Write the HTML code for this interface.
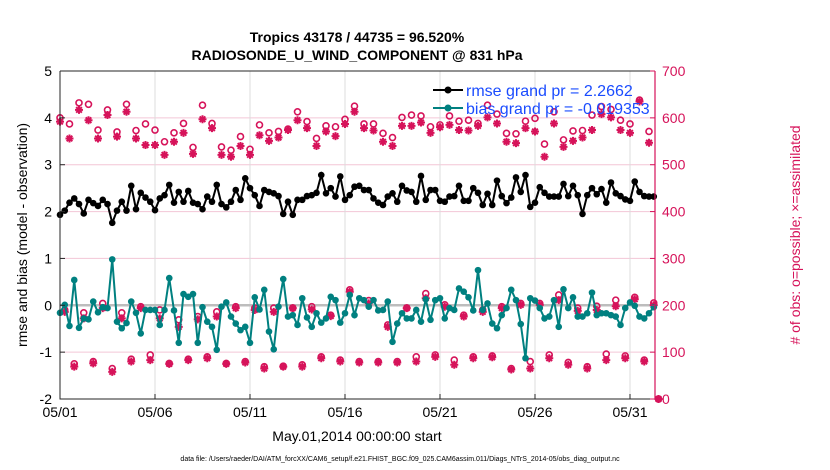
<!DOCTYPE html>
<html><head><meta charset="utf-8"><style>
body{margin:0;background:#fff;}
svg{display:block;font-family:"Liberation Sans",Arial,sans-serif;}
</style></head><body>
<svg id="chart" width="830" height="470" viewBox="0 0 830 470" xmlns="http://www.w3.org/2000/svg">
<rect width="830" height="470" fill="#fff"/>
<text x="357" y="42" text-anchor="middle" font-size="14" font-weight="bold">Tropics 43178 / 44735 = 96.520%</text>
<text x="357" y="60" text-anchor="middle" font-size="14" font-weight="bold">RADIOSONDE_U_WIND_COMPONENT @ 831 hPa</text>
<g id="grid"></g>
<g id="marks"></g>
<g id="axes"></g>
<text transform="translate(27,235) rotate(-90)" text-anchor="middle" font-size="14">rmse and bias (model - observation)</text>
<text transform="translate(800,235) rotate(-90)" text-anchor="middle" font-size="14" fill="#d6135a">#  of obs: o=possible; ×=assimilated</text>
<text x="357" y="441" text-anchor="middle" font-size="14">May.01,2014 00:00:00 start</text>
<text x="400" y="461" text-anchor="middle" font-size="7">data file: /Users/raeder/DAI/ATM_forcXX/CAM6_setup/f.e21.FHIST_BGC.f09_025.CAM6assim.011/Diags_NTrS_2014-05/obs_diag_output.nc</text>
<g>
<line x1="433" y1="90" x2="463" y2="90" stroke="#000" stroke-width="2"/>
<circle cx="448" cy="90" r="3.5" fill="#000"/>
<text x="466" y="96" font-size="16" fill="#1a4cff">rmse grand pr = 2.2662</text>
<line x1="433" y1="108" x2="463" y2="108" stroke="#008080" stroke-width="2"/>
<circle cx="448" cy="108" r="3.5" fill="#008080"/>
<text x="466" y="114" font-size="16" fill="#1a4cff">bias grand pr = -0.019353</text>
</g>
</svg>
<script>
const xTickLabels=["05/01","05/06","05/11","05/16","05/21","05/26","05/31"];
const xTickDays=[0,5,10,15,20,25,30];
const yLeftTicks=[5,4,3,2,1,0,-1,-2];
const yRightTicks=[700,600,500,400,300,200,100,0];
const rmse=[1.93,2.02,2.19,2.28,2.16,1.96,2.25,2.18,2.12,2.25,2.16,1.76,2.02,2.21,2.02,2.55,2.05,2.40,2.30,2.21,2.03,2.28,2.35,2.57,2.19,2.42,2.21,2.44,2.19,2.16,2.05,2.32,
2.21,2.57,2.16,2.09,2.21,2.46,2.25,2.71,2.50,2.35,2.12,2.46,2.42,2.39,2.33,1.95,2.21,1.93,2.25,2.25,2.33,2.35,2.40,2.78,2.39,2.50,2.32,2.75,2.25,2.35,2.53,
2.55,2.46,2.46,2.28,2.19,2.14,2.32,2.39,2.21,2.55,2.45,2.42,2.21,2.76,2.25,2.46,2.46,2.23,2.21,2.32,2.33,2.55,2.23,2.23,2.50,2.40,2.14,2.38,2.14,2.66,2.33,2.18,
2.30,2.73,2.42,2.78,2.10,2.19,2.52,2.40,2.32,2.32,2.32,2.59,2.33,2.55,2.35,1.95,2.35,2.50,2.37,2.48,2.19,2.62,2.39,2.33,2.26,2.23,2.64,2.42,2.33,2.32,2.32];
const bias=[-0.16,0.01,-0.44,0.54,-0.48,-0.28,-0.30,0.08,-0.15,-0.04,-0.06,0.98,-0.35,-0.49,-0.38,0.08,-0.16,-0.60,-0.10,-0.10,-0.10,-0.42,-0.10,0.58,-0.11,-0.80,0.24,0.18,0.24,-0.80,-0.04,-0.35,
-0.46,-0.95,-0.03,0.06,-0.24,-0.39,-0.53,-0.46,-0.80,0.17,-0.09,0.33,-0.56,-0.94,-0.03,0.56,-0.24,-0.21,-0.42,0.15,-0.26,-0.46,-0.17,-0.37,-0.28,0.18,0.11,-0.37,-0.17,0.22,-0.21,
0.15,0.11,-0.03,0.11,-0.11,-0.10,0.08,-0.78,-0.39,-0.17,-0.28,-0.28,-0.10,-0.35,0.13,-0.31,0.11,0.15,-0.28,-0.06,-0.10,0.36,0.29,0.17,-0.11,0.75,-0.10,0.04,-0.39,-0.49,-0.21,-0.06,
0.33,0.11,-0.40,-1.13,0.15,0.10,-0.06,-0.28,-0.24,0.11,-0.46,0.34,-0.06,0.17,-0.24,-0.24,-0.17,0.27,-0.21,-0.17,-0.17,-0.21,-0.24,-0.42,-0.06,0.06,-0.01,-0.24,-0.28,-0.17,-0.04];
const obsAssim=[592,186,556,69,617,172,595,76,556,194,606,58,560,172,613,80,556,194,542,83,542,172,521,75,549,154,568,83,523,170,597,87,
578,176,521,75,517,194,540,78,521,190,563,65,551,186,558,69,574,194,595,69,578,191,540,87,571,177,561,80,587,229,613,78,
578,204,573,78,549,154,540,78,583,194,583,80,590,215,568,90,580,197,585,73,574,176,573,87,583,186,601,89,588,194,549,
63,546,201,578,65,571,201,517,87,588,211,538,73,551,188,558,65,574,190,608,83,601,198,574,87,568,213,635,80,547,200,0];
const obsPoss=[600,190,587,75,632,184,629,80,574,204,617,65,570,184,629,85,573,197,587,94,574,190,549,76,568,169,588,85,537,176,627,90,
588,186,538,76,531,197,560,80,533,194,585,69,568,194,571,70,576,194,613,73,592,197,556,90,583,179,581,83,597,233,625,80,
587,210,587,80,567,158,558,80,601,194,606,90,604,225,581,94,585,201,604,83,593,179,595,90,588,190,627,92,608,197,567,
65,566,204,593,80,599,204,544,94,613,222,553,78,572,194,573,69,606,198,624,96,618,211,595,92,587,217,638,83,571,205,0];
const X0=60,X1=655,Y0=71,Y1=399;
const pxPerDay=19;
function xOfIndex(i){return X0+pxPerDay*(i*0.25);}
function xOfDay(d){return X0+pxPerDay*d;}
function yL(v){return Y1-(v+2)/7*(Y1-Y0);}
function yR(v){return Y1-v/700*(Y1-Y0);}
const NS="http://www.w3.org/2000/svg";
function mk(tag,attrs,parent){const e=document.createElementNS(NS,tag);for(const k in attrs)e.setAttribute(k,attrs[k]);parent.appendChild(e);return e;}
const grid=document.getElementById('grid'),marks=document.getElementById('marks'),axes=document.getElementById('axes');
const RED="#d6135a",TEAL="#008080";
// grid
yRightTicks.forEach((t)=>{const l=mk('line',{x1:X0,x2:X1,y1:yR(t),y2:yR(t),stroke:'#f3c6d6','stroke-width':1},grid);

});
xTickDays.forEach((d)=>{const l=mk('line',{x1:xOfDay(d),x2:xOfDay(d),y1:Y0,y2:Y1,stroke:'#dcdcdc','stroke-width':1},grid);

});
const zl=mk('line',{x1:X0,x2:X1,y1:yL(0),y2:yL(0),stroke:'#bdbdbd','stroke-width':2.5},grid);


// obs markers
function star(cx,cy,g){const s=4;let d='';for(let k=0;k<4;k++){const a=k*Math.PI/4;d+=`M${cx-s*Math.cos(a)},${cy-s*Math.sin(a)}L${cx+s*Math.cos(a)},${cy+s*Math.sin(a)}`;}
return mk('path',{d:d,stroke:RED,'stroke-width':2,fill:'none'},g);}
obsPoss.forEach((v,i)=>{const c=mk('circle',{cx:xOfIndex(i),cy:yR(v),r:3,fill:'none',stroke:RED,'stroke-width':1.6},marks);

});
obsAssim.forEach((v,i)=>{const s=star(xOfIndex(i),yR(v),marks);

});
function series(arr,color,name){
const pts=arr.map((v,i)=>xOfIndex(i)+','+yL(v)).join(' ');
const pl=mk('polyline',{points:pts,fill:'none',stroke:color,'stroke-width':2},marks);


arr.forEach((v,i)=>{const c=mk('circle',{cx:xOfIndex(i),cy:yL(v),r:3.3,fill:color},marks);

});}
series(bias,TEAL,'bias');
series(rmse,'#000','rmse');
// axes
const box=mk('path',{d:`M${X0},${Y0}L${X0},${Y1}L${X1},${Y1}M${X0},${Y0}L${X1},${Y0}`,stroke:'#262626','stroke-width':1,fill:'none'},axes);


const ra=mk('line',{x1:X1,x2:X1,y1:Y0,y2:Y1,stroke:RED,'stroke-width':1.2},axes);


yLeftTicks.forEach(t=>{mk('line',{x1:X0,x2:X0+5,y1:yL(t),y2:yL(t),stroke:'#262626'},axes);
const tx=mk('text',{x:X0-8,y:yL(t)+5,'text-anchor':'end','font-size':14},axes);tx.textContent=t;

});
yRightTicks.forEach(t=>{mk('line',{x1:X1-5,x2:X1,y1:yR(t),y2:yR(t),stroke:RED},axes);
const tx=mk('text',{x:X1+7,y:yR(t)+5,'font-size':14,fill:RED},axes);tx.textContent=t;

});
xTickDays.forEach((d,k)=>{mk('line',{x1:xOfDay(d),x2:xOfDay(d),y1:Y1,y2:Y1-5,stroke:'#262626'},axes);
const tx=mk('text',{x:xOfDay(d),y:Y1+18,'text-anchor':'middle','font-size':14},axes);tx.textContent=xTickLabels[k];

});
</script>
</body></html>
